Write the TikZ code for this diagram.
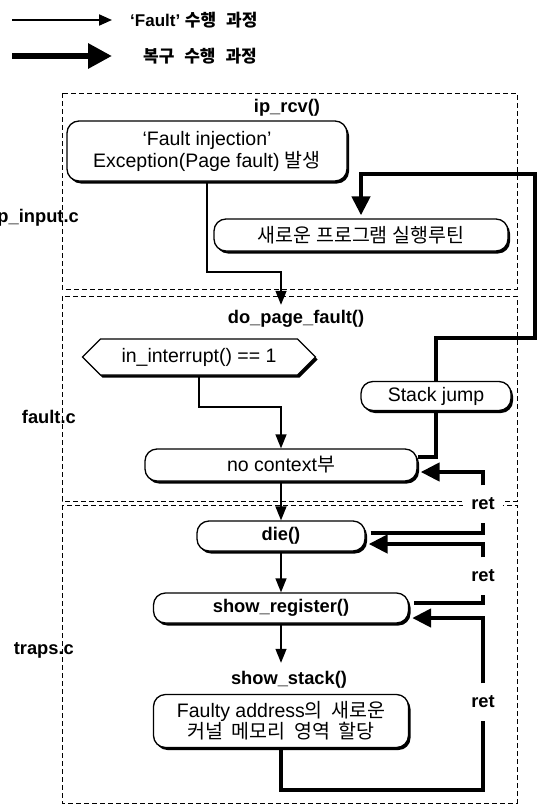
\documentclass[tikz,border=0pt]{standalone}
\usepackage{fontspec}
\setmainfont{Liberation Sans}
\newfontfamily\krfont{Noto Sans CJK KR}
\newcommand{\KR}[1]{{\krfont #1}}
\usetikzlibrary{arrows.meta,shadows,shapes.symbols}
\tikzset{
  region/.style={draw, line width=1bp, dash pattern=on 5bp off 3bp},
  rbox/.style={draw, line width=1.3bp, fill=white, rounded corners=12bp, inner sep=0pt,
    font=\fontsize{19.5bp}{22bp}\selectfont,
    drop shadow={shadow xshift=2bp, shadow yshift=-2.5bp, fill=black, opacity=1}},
  boldbox/.style={rbox, font=\bfseries\fontsize{18.3bp}{21bp}\selectfont},
  hexbox/.style={draw, line width=1.3bp, fill=white, shape=signal, signal to=west and east,
    signal pointer angle=90, inner sep=0pt, font=\fontsize{19.5bp}{22bp}\selectfont,
    drop shadow={shadow xshift=2bp, shadow yshift=-2.5bp, fill=black, opacity=1}},
  title/.style={font=\bfseries\fontsize{18.3bp}{21bp}\selectfont, inner sep=0pt},
  filelabel/.style={font=\bfseries\fontsize{18.3bp}{21bp}\selectfont, inner sep=0pt},
  retlabel/.style={font=\bfseries\fontsize{18.3bp}{21bp}\selectfont, fill=white, inner sep=0pt,
    minimum height=37bp, minimum width=40bp},
  legtext/.style={font=\bfseries\fontsize{17bp}{20bp}\selectfont, inner sep=0pt},
  thinarrow/.style={line width=1.3bp, -{Triangle[length=14bp,width=11bp]}},
  thickline/.style={line width=4.5bp, shorten <=5bp},
  thickarrow/.style={line width=4.5bp, -{Triangle[length=19bp,width=18bp]}, shorten >=3bp},
}
\begin{document}
\begin{tikzpicture}[x=1bp,y=-1bp]
\useasboundingbox (0,0) rectangle (541,806);
% legend
\coordinate (la1) at (12,20);
\coordinate (lb1) at (112,20);
\coordinate (la2) at (12,56);
\coordinate (lb2) at (112,56);
\draw[line width=2bp, -{Triangle[length=13bp,width=11bp]}] (la1) -- (lb1);
\draw[line width=6bp, -{Triangle[length=24bp,width=24bp]}] (la2) -- (lb2);
\node[legtext, anchor=west] (lt1) at (130,20) {‘Fault’ \KR{\bfseries 수행\hspace{6bp} 과정}};
\node[legtext, anchor=west] (lt2) at (143,56) {\KR{\bfseries 복구\hspace{6bp} 수행\hspace{6bp} 과정}};

% regions
\draw[region] (62,93) rectangle (517,289);
\draw[region] (62,296) rectangle (517,501);
\draw[region] (62,505) rectangle (517,803);
\node[filelabel, anchor=east] (f1) at (79,218) {ip\_input.c};
\node[filelabel, anchor=east] (f2) at (76,417) {fault.c};
\node[filelabel, anchor=east] (f3) at (74,650) {traps.c};

% ip_input.c
\node[title] (t1) at (287,108) {ip\_rcv()};
\node[rbox, minimum width=280bp, minimum height=60bp, align=center] (n1) at (207,151)
  {‘Fault injection’\\Exception(Page fault) \KR{발생}};
\node[rbox, minimum width=294bp, minimum height=32bp] (n2) at (361,235)
  {\KR{새로운 프로그램 실행루틴}};

% fault.c
\node[title, minimum height=28bp] (dpf) at (296,319) {do\_page\_fault()};
\node[hexbox, minimum width=233bp, minimum height=36bp] (hx) at (199,357) {in\_interrupt() == 1};
\node[rbox, minimum width=150bp, minimum height=29bp] (sj) at (436,396) {Stack jump};
\node[rbox, minimum width=272bp, minimum height=32bp] (nc) at (281,465) {no context\KR{부}};

% traps.c
\node[boldbox, minimum width=168bp, minimum height=30bp] (die) at (281,536) {die()};
\node[boldbox, minimum width=255bp, minimum height=30bp] (sr) at (281,608) {show\_register()};
\node[title, minimum height=34bp] (ss) at (289,680) {show\_stack()};
\node[rbox, minimum width=255bp, minimum height=53bp, align=center, font=\fontsize{19.5bp}{20bp}\selectfont] (fa) at (281,721)
  {Faulty address\KR{의\hspace{4bp} 새로운}\\\KR{커널\hspace{4bp} 메모리\hspace{4bp} 영역\hspace{4bp} 할당}};

% ret labels
\node[retlabel] (r1) at (483,504) {ret};
\node[retlabel] (r2) at (483,576) {ret};
\node[retlabel] (r3) at (483,702) {ret};

% fault path (thin)
\coordinate (k1) at (281,272);
\draw[thinarrow] (n1.south) |- (k1) -- (k1 |- dpf.north);
\coordinate (k4) at (230,407);
\draw[thinarrow] (hx.south) |- (k4) -| (nc.north);
\draw[thinarrow] (nc.south) -- (die.north);
\draw[thinarrow] (die.south) -- (sr.north);
\draw[thinarrow] (sr.south) -- (sr.south |- ss.north);

% recovery path (thick)
\coordinate (k2) at (535,338);
\coordinate (k3) at (535,174);
\draw[thickarrow] (sj.north) |- (k2) -- (k3) -| (n2.north);
\draw[line width=4.5bp] (sj.south) |- ([yshift=8bp]nc.east);
\draw[thickline] ([yshift=3bp]die.east) -| (r1.south);
\draw[thickarrow] (r1.north) |- ([yshift=-7bp]nc.east);
\draw[thickline] ([yshift=5bp]sr.east) -| (r2.south);
\draw[thickarrow] (r2.north) |- ([yshift=-8bp]die.east);
\coordinate (k5) at (483,790);
\draw[line width=4.5bp] (fa.south) |- (k5) -- (r3.south);
\draw[thickarrow] (r3.north) |- ([yshift=-10bp]sr.east);
\end{tikzpicture}
\end{document}
